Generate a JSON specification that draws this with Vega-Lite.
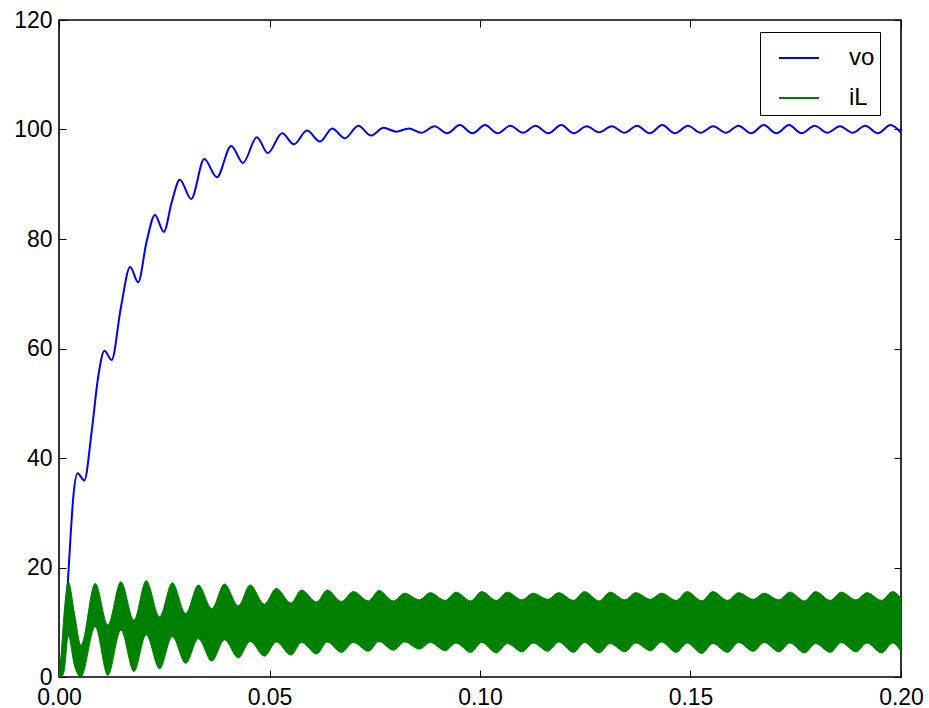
{
  "$schema": "https://vega.github.io/schema/vega-lite/v6.json",
  "width": 842,
  "height": 657,
  "autosize": "none",
  "padding": {"left": 59, "top": 20, "right": 28, "bottom": 31},
  "background": "white",
  "config": {
    "view": {"stroke": "#000000", "strokeWidth": 1.6},
    "axis": {
      "grid": false,
      "domain": false,
      "tickColor": "#000000",
      "tickSize": -7,
      "tickWidth": 1,
      "labelFont": "Liberation Sans",
      "labelFontSize": 23,
      "labelColor": "#000000",
      "title": null
    },
    "legend": {
      "labelFont": "Liberation Sans",
      "labelFontSize": 24,
      "labelColor": "#000000"
    }
  },
  "datasets": {
    "vo": [
      {"t": 0, "v": 0, "series": "vo"},
      {"t": 0.0007, "v": 3.5, "series": "vo"},
      {"t": 0.0014, "v": 8.6, "series": "vo"},
      {"t": 0.002, "v": 16, "series": "vo"},
      {"t": 0.0026, "v": 23.8, "series": "vo"},
      {"t": 0.0034, "v": 32.9, "series": "vo"},
      {"t": 0.0044, "v": 37.2, "series": "vo"},
      {"t": 0.006, "v": 35.9, "series": "vo"},
      {"t": 0.0078, "v": 45.1, "series": "vo"},
      {"t": 0.0093, "v": 54.8, "series": "vo"},
      {"t": 0.0108, "v": 59.6, "series": "vo"},
      {"t": 0.0125, "v": 57.9, "series": "vo"},
      {"t": 0.0147, "v": 67.5, "series": "vo"},
      {"t": 0.0169, "v": 74.9, "series": "vo"},
      {"t": 0.0188, "v": 72.1, "series": "vo"},
      {"t": 0.0208, "v": 79.5, "series": "vo"},
      {"t": 0.0228, "v": 84.4, "series": "vo"},
      {"t": 0.0249, "v": 81.3, "series": "vo"},
      {"t": 0.0268, "v": 86.8, "series": "vo"},
      {"t": 0.0287, "v": 90.8, "series": "vo"},
      {"t": 0.0314, "v": 87.3, "series": "vo"},
      {"t": 0.0345, "v": 94.6, "series": "vo"},
      {"t": 0.0375, "v": 91.3, "series": "vo"},
      {"t": 0.0409, "v": 97.0, "series": "vo"},
      {"t": 0.0437, "v": 93.9, "series": "vo"},
      {"t": 0.047, "v": 98.6, "series": "vo"},
      {"t": 0.0496, "v": 95.7, "series": "vo"},
      {"t": 0.053, "v": 99.3, "series": "vo"},
      {"t": 0.0558, "v": 97.3, "series": "vo"},
      {"t": 0.0589, "v": 99.8, "series": "vo"},
      {"t": 0.062, "v": 97.8, "series": "vo"},
      {"t": 0.0649, "v": 100.2, "series": "vo"},
      {"t": 0.0679, "v": 98.4, "series": "vo"},
      {"t": 0.0711, "v": 100.7, "series": "vo"},
      {"t": 0.0741, "v": 98.9, "series": "vo"},
      {"t": 0.0771, "v": 100.3, "series": "vo"},
      {"t": 0.0801, "v": 99.6, "series": "vo"},
      {"t": 0.0831, "v": 100.2, "series": "vo"},
      {"t": 0.0861, "v": 99.4, "series": "vo"},
      {"t": 0.0892, "v": 100.6, "series": "vo"},
      {"t": 0.0922, "v": 99.3, "series": "vo"},
      {"t": 0.0952, "v": 100.8, "series": "vo"},
      {"t": 0.0982, "v": 99.3, "series": "vo"},
      {"t": 0.1012, "v": 100.8, "series": "vo"},
      {"t": 0.1042, "v": 99.3, "series": "vo"},
      {"t": 0.1072, "v": 100.7, "series": "vo"},
      {"t": 0.1102, "v": 99.4, "series": "vo"},
      {"t": 0.1132, "v": 100.7, "series": "vo"},
      {"t": 0.1162, "v": 99.3, "series": "vo"},
      {"t": 0.1193, "v": 100.8, "series": "vo"},
      {"t": 0.1223, "v": 99.3, "series": "vo"},
      {"t": 0.1253, "v": 100.6, "series": "vo"},
      {"t": 0.1283, "v": 99.5, "series": "vo"},
      {"t": 0.1313, "v": 100.6, "series": "vo"},
      {"t": 0.1343, "v": 99.4, "series": "vo"},
      {"t": 0.1373, "v": 100.7, "series": "vo"},
      {"t": 0.1403, "v": 99.3, "series": "vo"},
      {"t": 0.1433, "v": 100.8, "series": "vo"},
      {"t": 0.1463, "v": 99.3, "series": "vo"},
      {"t": 0.1494, "v": 100.7, "series": "vo"},
      {"t": 0.1524, "v": 99.4, "series": "vo"},
      {"t": 0.1554, "v": 100.6, "series": "vo"},
      {"t": 0.1584, "v": 99.4, "series": "vo"},
      {"t": 0.1614, "v": 100.7, "series": "vo"},
      {"t": 0.1644, "v": 99.3, "series": "vo"},
      {"t": 0.1674, "v": 100.8, "series": "vo"},
      {"t": 0.1704, "v": 99.3, "series": "vo"},
      {"t": 0.1734, "v": 100.8, "series": "vo"},
      {"t": 0.1764, "v": 99.3, "series": "vo"},
      {"t": 0.1795, "v": 100.7, "series": "vo"},
      {"t": 0.1825, "v": 99.4, "series": "vo"},
      {"t": 0.1855, "v": 100.6, "series": "vo"},
      {"t": 0.1885, "v": 99.4, "series": "vo"},
      {"t": 0.1915, "v": 100.7, "series": "vo"},
      {"t": 0.1945, "v": 99.3, "series": "vo"},
      {"t": 0.1975, "v": 100.8, "series": "vo"},
      {"t": 0.2, "v": 99.4, "series": "vo"}
    ],
    "iL": [
      {"t": 0, "hi": 0, "lo": 0},
      {"t": 0.0005, "hi": 4, "lo": 0},
      {"t": 0.0012, "hi": 11.5, "lo": 1},
      {"t": 0.0022, "hi": 17.4, "lo": 7.5},
      {"t": 0.0037, "hi": 11.5, "lo": 2},
      {"t": 0.0052, "hi": 5.8, "lo": 0},
      {"t": 0.0086, "hi": 17.1, "lo": 9.2},
      {"t": 0.0116, "hi": 9.5, "lo": 0.3},
      {"t": 0.0147, "hi": 17.4, "lo": 8.6},
      {"t": 0.0178, "hi": 10.4, "lo": 1.0},
      {"t": 0.0207, "hi": 17.6, "lo": 7.7},
      {"t": 0.0239, "hi": 11.0, "lo": 1.5},
      {"t": 0.0269, "hi": 17.2, "lo": 7.4},
      {"t": 0.0301, "hi": 11.6, "lo": 2.5},
      {"t": 0.0331, "hi": 16.8, "lo": 7.0},
      {"t": 0.0363, "hi": 12.5, "lo": 2.9},
      {"t": 0.0393, "hi": 17.0, "lo": 6.8},
      {"t": 0.0426, "hi": 13.0, "lo": 3.5},
      {"t": 0.0454, "hi": 16.8, "lo": 6.5},
      {"t": 0.0488, "hi": 13.3, "lo": 3.8},
      {"t": 0.0516, "hi": 16.2, "lo": 6.4},
      {"t": 0.0551, "hi": 13.5, "lo": 4.0},
      {"t": 0.0576, "hi": 15.9, "lo": 6.3},
      {"t": 0.0612, "hi": 13.7, "lo": 4.2},
      {"t": 0.0637, "hi": 15.9, "lo": 6.4},
      {"t": 0.0671, "hi": 13.8, "lo": 4.5},
      {"t": 0.0699, "hi": 15.6, "lo": 6.3},
      {"t": 0.0735, "hi": 13.9, "lo": 4.7},
      {"t": 0.076, "hi": 15.8, "lo": 6.5},
      {"t": 0.0794, "hi": 13.9, "lo": 4.9},
      {"t": 0.0821, "hi": 15.3, "lo": 6.4},
      {"t": 0.0856, "hi": 14.1, "lo": 5.1},
      {"t": 0.0882, "hi": 15.4, "lo": 6.3},
      {"t": 0.0917, "hi": 14.0, "lo": 4.8},
      {"t": 0.0943, "hi": 15.5, "lo": 6.2},
      {"t": 0.0978, "hi": 13.9, "lo": 4.5},
      {"t": 0.1004, "hi": 15.6, "lo": 6.3},
      {"t": 0.1039, "hi": 14.0, "lo": 4.4},
      {"t": 0.1065, "hi": 15.5, "lo": 6.1},
      {"t": 0.11, "hi": 14.1, "lo": 4.6},
      {"t": 0.1126, "hi": 15.3, "lo": 6.2},
      {"t": 0.1161, "hi": 14.2, "lo": 4.7},
      {"t": 0.1187, "hi": 15.4, "lo": 6.4},
      {"t": 0.1222, "hi": 14.0, "lo": 4.5},
      {"t": 0.1248, "hi": 15.6, "lo": 6.3},
      {"t": 0.1283, "hi": 13.9, "lo": 4.4},
      {"t": 0.1309, "hi": 15.5, "lo": 6.1},
      {"t": 0.1344, "hi": 14.1, "lo": 4.6},
      {"t": 0.137, "hi": 15.4, "lo": 6.2},
      {"t": 0.1405, "hi": 14.2, "lo": 4.8},
      {"t": 0.1431, "hi": 15.3, "lo": 6.4},
      {"t": 0.1466, "hi": 14.0, "lo": 4.5},
      {"t": 0.1492, "hi": 15.6, "lo": 6.2},
      {"t": 0.1527, "hi": 13.9, "lo": 4.3},
      {"t": 0.1553, "hi": 15.6, "lo": 6.1},
      {"t": 0.1588, "hi": 14.0, "lo": 4.5},
      {"t": 0.1614, "hi": 15.4, "lo": 6.3},
      {"t": 0.1649, "hi": 14.2, "lo": 4.7},
      {"t": 0.1675, "hi": 15.3, "lo": 6.3},
      {"t": 0.171, "hi": 14.1, "lo": 4.6},
      {"t": 0.1736, "hi": 15.5, "lo": 6.2},
      {"t": 0.1771, "hi": 13.9, "lo": 4.4},
      {"t": 0.1797, "hi": 15.6, "lo": 6.1},
      {"t": 0.1832, "hi": 14.0, "lo": 4.5},
      {"t": 0.1858, "hi": 15.5, "lo": 6.3},
      {"t": 0.1893, "hi": 14.1, "lo": 4.6},
      {"t": 0.1919, "hi": 15.4, "lo": 6.2},
      {"t": 0.1954, "hi": 14.0, "lo": 4.4},
      {"t": 0.198, "hi": 15.6, "lo": 6.2},
      {"t": 0.2, "hi": 14.4, "lo": 4.6}
    ]
  },
  "layer": [
    {
      "data": {"name": "vo"},
      "mark": {"type": "line", "interpolate": "monotone", "strokeWidth": 2, "clip": true},
      "encoding": {
        "x": {
          "field": "t", "type": "quantitative",
          "scale": {"domain": [0, 0.2], "nice": false, "zero": false},
          "axis": {"orient": "bottom", "values": [0, 0.05, 0.1, 0.15, 0.2], "format": ".2f", "labelPadding": 16, "labelFlush": false}
        },
        "y": {
          "field": "v", "type": "quantitative",
          "scale": {"domain": [0, 120], "nice": false},
          "axis": {"orient": "left", "values": [0, 20, 40, 60, 80, 100, 120], "format": "d", "labelPadding": 14}
        },
        "color": {
          "field": "series", "type": "nominal",
          "scale": {"domain": ["vo", "iL"], "range": ["#0000ff", "#008000"]},
          "legend": {
            "title": null,
            "orient": "none",
            "legendX": 701,
            "legendY": 12,
            "symbolType": "stroke",
            "symbolSize": 1600,
            "symbolStrokeWidth": 2,
            "symbolOffset": 13,
            "labelOffset": 29,
            "rowPadding": 7,
            "padding": 5,
            "strokeColor": "#000000",
            "fillColor": "#ffffff"
          }
        }
      }
    },
    {
      "data": {"name": "iL"},
      "mark": {"type": "area", "interpolate": "monotone", "color": "#008000", "stroke": "#008000", "strokeWidth": 1, "clip": true},
      "encoding": {
        "x": {
          "field": "t", "type": "quantitative",
          "axis": {"orient": "top", "values": [0, 0.05, 0.1, 0.15, 0.2], "labels": false}
        },
        "y": {
          "field": "hi", "type": "quantitative",
          "axis": {"orient": "right", "values": [0, 20, 40, 60, 80, 100, 120], "labels": false}
        },
        "y2": {"field": "lo"}
      }
    }
  ],
  "resolve": {"axis": {"x": "independent", "y": "independent"}}
}
